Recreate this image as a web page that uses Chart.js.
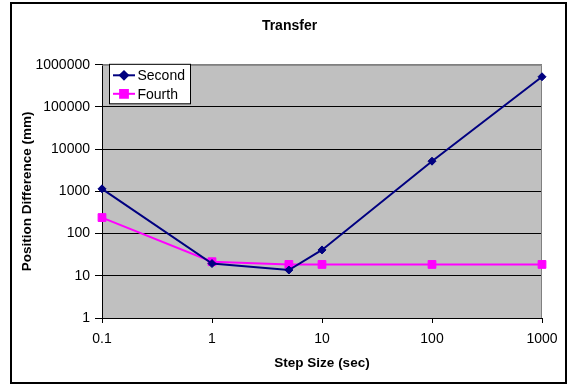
<!DOCTYPE html>
<html>
<head>
<meta charset="utf-8">
<script src="https://cdn.jsdelivr.net/npm/chart.js@4.4.0/dist/chart.umd.min.js"></script>
<style>
    html, body { margin: 0; padding: 0; background: #ffffff; }
</style>
</head>
<body>
<canvas id="transferChart" width="568" height="385"></canvas>
<script>
// ================= DATA =================

const stepSizes = [0.1, 1, 5, 10, 100, 1000];
const secondDiff = [1150, 19.5, 13.7, 41, 5200, 520000];
const fourthDiff = [240, 21.6, 18.6, 18.6, 18.6, 18.6];

const xTicks = [0.1, 1, 10, 100, 1000];
const yTicks = [1, 10, 100, 1000, 10000, 100000, 1000000];

const seriesNames = ["Second", "Fourth"];


// ================= PLUGINS =================

// White page, black frame and grey plot area
const chartFrame = {
    id: "chartFrame",

    beforeDraw(chart) {
        const { ctx, chartArea } = chart;

        ctx.save();

        ctx.fillStyle = "#ffffff";
        ctx.fillRect(0, 0, chart.width, chart.height);

        ctx.strokeStyle = "#000000";
        ctx.lineWidth = 2;
        ctx.strokeRect(11, 3, 555, 380);

        ctx.fillStyle = "#c0c0c0";
        ctx.fillRect(
            chartArea.left,
            chartArea.top,
            chartArea.right - chartArea.left,
            chartArea.bottom - chartArea.top
        );

        ctx.restore();
    },

    beforeDatasetsDraw(chart) {
        const { ctx, chartArea } = chart;

        ctx.save();
        ctx.strokeStyle = "#808080";
        ctx.lineWidth = 1;
        ctx.beginPath();
        ctx.moveTo(chartArea.left, chartArea.top + 0.5);
        ctx.lineTo(chartArea.right - 0.5, chartArea.top + 0.5);
        ctx.lineTo(chartArea.right - 0.5, chartArea.bottom);
        ctx.stroke();
        ctx.restore();
    }
};

// Boxed legend sitting in the top-left corner of the plot
const boxLegend = {
    id: "boxLegend",

    afterDatasetsDraw(chart) {
        const { ctx, chartArea } = chart;

        const boxX = chartArea.left + 7.5;
        const boxY = chartArea.top - 0.5;
        const boxW = 81;
        const boxH = 39.5;

        ctx.save();

        ctx.fillStyle = "#ffffff";
        ctx.fillRect(boxX, boxY, boxW, boxH);
        ctx.strokeStyle = "#000000";
        ctx.lineWidth = 1;
        ctx.strokeRect(boxX, boxY, boxW, boxH);

        chart.data.datasets.forEach((dataset, i) => {
            const y = boxY + 11 + i * 18.5;

            ctx.strokeStyle = dataset.borderColor;
            ctx.lineWidth = dataset.borderWidth;
            ctx.beginPath();
            ctx.moveTo(boxX + 3.5, y);
            ctx.lineTo(boxX + 25.5, y);
            ctx.stroke();

            ctx.fillStyle = dataset.pointBackgroundColor;
            ctx.strokeStyle = dataset.pointBorderColor;
            Chart.helpers.drawPoint(
                ctx,
                {
                    pointStyle: dataset.pointStyle,
                    radius: dataset.pointRadius,
                    borderWidth: 1,
                    rotation: 0
                },
                boxX + 14.5,
                y
            );

            ctx.fillStyle = "#000000";
            ctx.font = "14px 'Liberation Sans', Arial, sans-serif";
            ctx.textAlign = "left";
            ctx.textBaseline = "middle";
            ctx.fillText(dataset.label, boxX + 28, y + 1);
        });

        ctx.restore();
    }
};


// ================= TRANSFER CHART =================

Chart.defaults.font.family = "'Liberation Sans', Arial, sans-serif";
Chart.defaults.color = "#000000";

const toPoints = values =>
    stepSizes.map((x, i) => ({ x: x, y: values[i] }));

new Chart(
    document.getElementById("transferChart"),
    {
        type: "scatter",

        data: {
            datasets: [
                {
                    label: seriesNames[0],
                    data: toPoints(secondDiff),
                    showLine: true,
                    borderColor: "#000080",
                    backgroundColor: "#000080",
                    pointBackgroundColor: "#000080",
                    pointBorderColor: "#000080",
                    borderWidth: 2,
                    pointStyle: "rectRot",
                    pointRadius: 4,
                    pointBorderWidth: 1,
                    clip: false
                },
                {
                    label: seriesNames[1],
                    data: toPoints(fourthDiff),
                    showLine: true,
                    borderColor: "#ff00ff",
                    backgroundColor: "#ff00ff",
                    pointBackgroundColor: "#ff00ff",
                    pointBorderColor: "#ff00ff",
                    borderWidth: 2,
                    pointStyle: "rect",
                    pointRadius: 5.5,
                    pointBorderWidth: 1,
                    clip: false
                }
            ]
        },

        options: {
            responsive: false,
            animation: false,

            layout: {
                padding: { left: 11, right: 0, top: 0, bottom: 0 }
            },

            plugins: {
                legend: { display: false },
                tooltip: { enabled: false },
                title: {
                    display: true,
                    text: "Transfer",
                    font: { size: 14, weight: "bold" },
                    padding: { top: 18, bottom: 30 }
                }
            },

            scales: {
                x: {
                    type: "logarithmic",
                    position: "bottom",
                    min: 0.1,
                    max: 1000,
                    afterBuildTicks(scale) {
                        scale.ticks = xTicks.map(v => ({ value: v }));
                    },
                    afterFit(scale) {
                        scale.height = 67;
                    },
                    ticks: {
                        font: { size: 14 },
                        padding: 8,
                        maxRotation: 0,
                        autoSkip: false,
                        callback: value => String(value)
                    },
                    grid: {
                        drawOnChartArea: false,
                        drawTicks: true,
                        tickLength: 5,
                        color: "#000000"
                    },
                    border: { color: "#000000", width: 1 },
                    title: {
                        display: true,
                        text: "Step Size (sec)",
                        font: { size: 13.5, weight: "bold" },
                        padding: { top: 0, bottom: 14 }
                    }
                },

                y: {
                    type: "logarithmic",
                    position: "left",
                    min: 1,
                    max: 1000000,
                    afterBuildTicks(scale) {
                        scale.ticks = yTicks.map(v => ({ value: v }));
                    },
                    afterFit(scale) {
                        scale.width = 91;
                    },
                    ticks: {
                        font: { size: 14 },
                        padding: 5,
                        autoSkip: false,
                        callback: value => String(value)
                    },
                    grid: {
                        drawTicks: true,
                        tickLength: 7,
                        tickColor: "#000000",
                        color: context =>
                            context.tick && context.tick.value === 1000000
                                ? "#808080"
                                : "#000000"
                    },
                    border: { color: "#000000", width: 1 },
                    title: {
                        display: true,
                        text: "Position Difference (mm)",
                        font: { size: 13.5, weight: "bold" },
                        padding: { top: 8, bottom: 0 }
                    }
                },

                // Empty right-hand gutter so the title centres on the frame
                gutter: {
                    type: "linear",
                    position: "right",
                    display: true,
                    ticks: { display: false },
                    grid: { display: false, drawTicks: false },
                    border: { display: false },
                    afterFit(scale) {
                        scale.width = 26;
                    }
                }
            }
        },

        plugins: [chartFrame, boxLegend]
    }
);
</script>
</body>
</html>
